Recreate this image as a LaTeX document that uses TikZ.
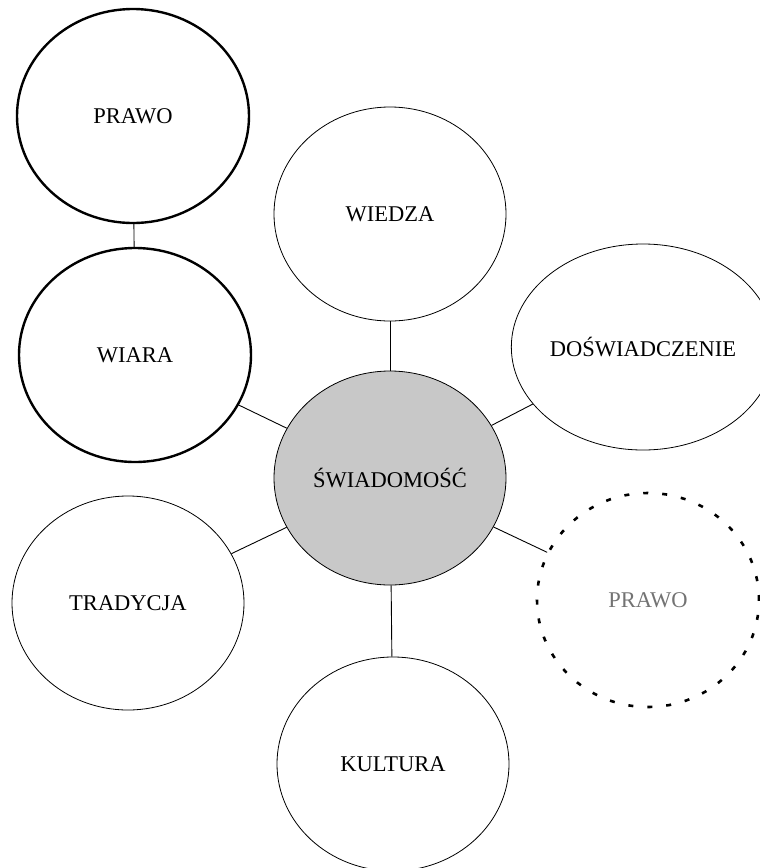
\documentclass[tikz,border=0pt]{standalone}
\usepackage{fontspec}
\setmainfont{Liberation Serif}
\usetikzlibrary{shapes.geometric}
\definecolor{szary}{RGB}{200,200,200}
\tikzstyle{pojecie} = [draw, ellipse, minimum width=232pt, minimum height=214pt, inner sep=0pt, line width=0.8pt, font=\fontsize{22.5}{27}\selectfont]
\tikzstyle{gruby} = [line width=2.4pt]
\tikzstyle{srodek} = [fill=szary]
\tikzstyle{przer} = [line width=2.6pt, dash pattern=on 5pt off 14pt, text=black!55, minimum width=222pt]
\tikzstyle{link} = [line width=0.9pt]

\begin{document}
\begin{tikzpicture}[x=1pt, y=-1pt]
		\useasboundingbox (0,0) rectangle (760,868);
		\node (swiad) [pojecie,srodek] at (390,478) {ŚWIADOMOŚĆ};
		\node (prawo) [pojecie,gruby] at (133,116) {PRAWO};
		\node (wiara) [pojecie,gruby] at (135,355) {WIARA};
		\node (wiedza) [pojecie] at (390,214) {WIEDZA};
		\node (dosw) [pojecie,minimum height=206pt] at (643,347) {DOŚWIADCZENIE};
		\node (prawo2) [pojecie,przer] at (648,600) {PRAWO};
		\node (trad) [pojecie] at (128,603) {TRADYCJA};
		\node (kult) [pojecie] at (393,764) {KULTURA};
		%
		\draw[link] (prawo) -- (wiara);
		\draw[link] (swiad) -- (wiara);
		\draw[link] (swiad) -- (wiedza);
		\draw[link] (swiad) -- (dosw);
		\draw[link] (swiad) -- (prawo2);
		\draw[link] (swiad) -- (trad);
		\draw[link] (swiad) -- (kult);
\end{tikzpicture}
\end{document}
